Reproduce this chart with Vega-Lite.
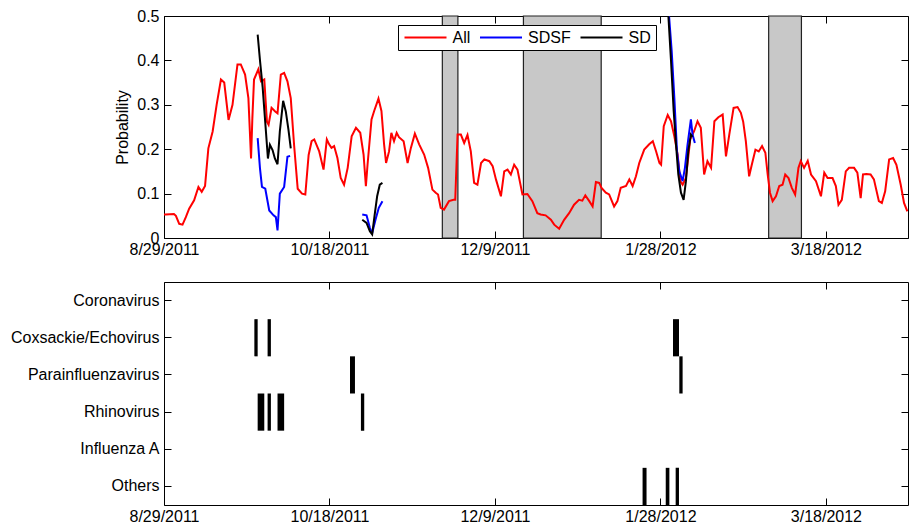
{
  "$schema": "https://vega.github.io/schema/vega-lite/v6.json",
  "background": "white",
  "padding": {"left": 10, "top": 7, "right": 2, "bottom": 4},
  "spacing": 23,
  "config": {
    "view": {"stroke": "#000", "strokeWidth": 1},
    "axis": {"domain": false, "grid": false, "tickColor": "#000", "tickWidth": 1, "tickSize": -7, "labelFont": "Liberation Sans", "labelFontSize": 16, "labelColor": "#000", "titleFont": "Liberation Sans", "titleFontSize": 16, "titleFontWeight": "normal", "titleColor": "#000", "labelOverlap": false, "labelFlush": false},
    "legend": {"labelFont": "Liberation Sans", "labelFontSize": 16, "labelColor": "#000"}
  },
  "resolve": {"scale": {"color": "independent"}, "legend": {"color": "independent"}},
  "datasets": {
    "zones": [{"start": 84.1, "end": 88.8}, {"start": 108.6, "end": 132.1}, {"start": 182.7, "end": 192.6}],
    "events": [
      {"virus": "Coxsackie/Echovirus", "start": 27.3, "end": 28.3},
      {"virus": "Coxsackie/Echovirus", "start": 31.3, "end": 32.3},
      {"virus": "Coxsackie/Echovirus", "start": 153.8, "end": 155.6},
      {"virus": "Parainfluenzavirus", "start": 56.2, "end": 57.7},
      {"virus": "Parainfluenzavirus", "start": 155.7, "end": 156.7},
      {"virus": "Rhinovirus", "start": 28.3, "end": 30.3},
      {"virus": "Rhinovirus", "start": 31.3, "end": 32.3},
      {"virus": "Rhinovirus", "start": 34.3, "end": 36.3},
      {"virus": "Rhinovirus", "start": 59.5, "end": 60.5},
      {"virus": "Others", "start": 144.6, "end": 145.8},
      {"virus": "Others", "start": 151.6, "end": 152.7},
      {"virus": "Others", "start": 154.6, "end": 155.6}
    ],
    "lines": [
      {"series":"All","seg":"A","day":0,"p":0.053},{"series":"All","seg":"A","day":0.5,"p":0.053},{"series":"All","seg":"A","day":3.0,"p":0.054},{"series":"All","seg":"A","day":3.6,"p":0.05},{"series":"All","seg":"A","day":4.6,"p":0.032},{"series":"All","seg":"A","day":5.6,"p":0.03},{"series":"All","seg":"A","day":6.6,"p":0.047},{"series":"All","seg":"A","day":7.6,"p":0.066},{"series":"All","seg":"A","day":9.1,"p":0.085},{"series":"All","seg":"A","day":10.4,"p":0.115},{"series":"All","seg":"A","day":11.4,"p":0.104},{"series":"All","seg":"A","day":12.4,"p":0.117},{"series":"All","seg":"A","day":13.4,"p":0.202},{"series":"All","seg":"A","day":14.7,"p":0.24},{"series":"All","seg":"A","day":15.9,"p":0.3},{"series":"All","seg":"A","day":17.2,"p":0.357},{"series":"All","seg":"A","day":18.2,"p":0.35},{"series":"All","seg":"A","day":19.5,"p":0.266},{"series":"All","seg":"A","day":20.7,"p":0.3},{"series":"All","seg":"A","day":22.2,"p":0.391},{"series":"All","seg":"A","day":23.2,"p":0.391},{"series":"All","seg":"A","day":24.5,"p":0.368},{"series":"All","seg":"A","day":25.5,"p":0.315},{"series":"All","seg":"A","day":26.3,"p":0.179},{"series":"All","seg":"A","day":26.7,"p":0.27},{"series":"All","seg":"A","day":27.2,"p":0.357},{"series":"All","seg":"A","day":28.5,"p":0.38},{"series":"All","seg":"A","day":29.3,"p":0.353},{"series":"All","seg":"A","day":30.3,"p":0.357},{"series":"All","seg":"A","day":31.1,"p":0.262},{"series":"All","seg":"A","day":31.6,"p":0.255},{"series":"All","seg":"A","day":32.5,"p":0.293},{"series":"All","seg":"A","day":33.6,"p":0.285},{"series":"All","seg":"A","day":34.3,"p":0.281},{"series":"All","seg":"A","day":35.3,"p":0.368},{"series":"All","seg":"A","day":36.3,"p":0.372},{"series":"All","seg":"A","day":37.3,"p":0.353},{"series":"All","seg":"A","day":38.3,"p":0.315},{"series":"All","seg":"A","day":39.3,"p":0.21},{"series":"All","seg":"A","day":40.4,"p":0.111},{"series":"All","seg":"A","day":41.7,"p":0.1},{"series":"All","seg":"A","day":42.7,"p":0.098},{"series":"All","seg":"A","day":43.7,"p":0.187},{"series":"All","seg":"A","day":44.6,"p":0.218},{"series":"All","seg":"A","day":45.4,"p":0.222},{"series":"All","seg":"A","day":46.9,"p":0.195},{"series":"All","seg":"A","day":48.2,"p":0.154},{"series":"All","seg":"A","day":49.2,"p":0.222},{"series":"All","seg":"A","day":49.9,"p":0.211},{"series":"All","seg":"A","day":50.6,"p":0.203},{"series":"All","seg":"A","day":51.4,"p":0.207},{"series":"All","seg":"A","day":52.4,"p":0.18},{"series":"All","seg":"A","day":53.4,"p":0.135},{"series":"All","seg":"A","day":54.4,"p":0.12},{"series":"All","seg":"A","day":55.5,"p":0.158},{"series":"All","seg":"A","day":56.7,"p":0.229},{"series":"All","seg":"A","day":58.0,"p":0.248},{"series":"All","seg":"A","day":59.3,"p":0.237},{"series":"All","seg":"A","day":60.3,"p":0.188},{"series":"All","seg":"A","day":61.0,"p":0.117},{"series":"All","seg":"A","day":61.5,"p":0.165},{"series":"All","seg":"A","day":62.7,"p":0.267},{"series":"All","seg":"A","day":63.5,"p":0.286},{"series":"All","seg":"A","day":64.8,"p":0.314},{"series":"All","seg":"A","day":65.7,"p":0.286},{"series":"All","seg":"A","day":66.5,"p":0.211},{"series":"All","seg":"A","day":67.1,"p":0.169},{"series":"All","seg":"A","day":68.0,"p":0.195},{"series":"All","seg":"A","day":68.7,"p":0.237},{"series":"All","seg":"A","day":69.5,"p":0.218},{"series":"All","seg":"A","day":70.3,"p":0.237},{"series":"All","seg":"A","day":71.0,"p":0.227},{"series":"All","seg":"A","day":72.4,"p":0.218},{"series":"All","seg":"A","day":73.6,"p":0.169},{"series":"All","seg":"A","day":74.6,"p":0.203},{"series":"All","seg":"A","day":75.8,"p":0.235},{"series":"All","seg":"A","day":77.1,"p":0.211},{"series":"All","seg":"A","day":78.6,"p":0.188},{"series":"All","seg":"A","day":79.8,"p":0.158},{"series":"All","seg":"A","day":81.1,"p":0.109},{"series":"All","seg":"A","day":82.1,"p":0.102},{"series":"All","seg":"A","day":82.8,"p":0.098},{"series":"All","seg":"A","day":83.6,"p":0.068},{"series":"All","seg":"A","day":84.6,"p":0.064},{"series":"All","seg":"A","day":86.1,"p":0.083},{"series":"All","seg":"A","day":87.5,"p":0.086},{"series":"All","seg":"A","day":88.0,"p":0.086},{"series":"All","seg":"A","day":88.7,"p":0.233},{"series":"All","seg":"A","day":89.7,"p":0.233},{"series":"All","seg":"A","day":90.7,"p":0.214},{"series":"All","seg":"A","day":91.7,"p":0.232},{"series":"All","seg":"A","day":92.7,"p":0.195},{"series":"All","seg":"A","day":93.7,"p":0.124},{"series":"All","seg":"A","day":94.7,"p":0.12},{"series":"All","seg":"A","day":95.8,"p":0.169},{"series":"All","seg":"A","day":96.8,"p":0.177},{"series":"All","seg":"A","day":98.3,"p":0.173},{"series":"All","seg":"A","day":99.3,"p":0.162},{"series":"All","seg":"A","day":100.3,"p":0.132},{"series":"All","seg":"A","day":101.8,"p":0.094},{"series":"All","seg":"A","day":102.8,"p":0.15},{"series":"All","seg":"A","day":103.8,"p":0.154},{"series":"All","seg":"A","day":104.8,"p":0.143},{"series":"All","seg":"A","day":105.8,"p":0.165},{"series":"All","seg":"A","day":106.8,"p":0.154},{"series":"All","seg":"A","day":108.3,"p":0.098},{"series":"All","seg":"A","day":109.8,"p":0.099},{"series":"All","seg":"A","day":111.3,"p":0.083},{"series":"All","seg":"A","day":112.8,"p":0.056},{"series":"All","seg":"A","day":113.8,"p":0.053},{"series":"All","seg":"A","day":115.3,"p":0.051},{"series":"All","seg":"A","day":116.9,"p":0.041},{"series":"All","seg":"A","day":117.9,"p":0.03},{"series":"All","seg":"A","day":119.4,"p":0.021},{"series":"All","seg":"A","day":120.9,"p":0.041},{"series":"All","seg":"A","day":122.4,"p":0.056},{"series":"All","seg":"A","day":123.9,"p":0.075},{"series":"All","seg":"A","day":125.4,"p":0.086},{"series":"All","seg":"A","day":126.4,"p":0.084},{"series":"All","seg":"A","day":127.3,"p":0.096},{"series":"All","seg":"A","day":128.5,"p":0.083},{"series":"All","seg":"A","day":129.5,"p":0.071},{"series":"All","seg":"A","day":130.5,"p":0.126},{"series":"All","seg":"A","day":131.5,"p":0.124},{"series":"All","seg":"A","day":132.2,"p":0.113},{"series":"All","seg":"A","day":133.5,"p":0.102},{"series":"All","seg":"A","day":134.5,"p":0.098},{"series":"All","seg":"A","day":136.0,"p":0.071},{"series":"All","seg":"A","day":137.0,"p":0.083},{"series":"All","seg":"A","day":138.0,"p":0.113},{"series":"All","seg":"A","day":139.6,"p":0.117},{"series":"All","seg":"A","day":140.6,"p":0.132},{"series":"All","seg":"A","day":141.6,"p":0.117},{"series":"All","seg":"A","day":142.6,"p":0.139},{"series":"All","seg":"A","day":143.6,"p":0.169},{"series":"All","seg":"A","day":145.1,"p":0.199},{"series":"All","seg":"A","day":146.6,"p":0.211},{"series":"All","seg":"A","day":147.7,"p":0.218},{"series":"All","seg":"A","day":148.7,"p":0.195},{"series":"All","seg":"A","day":149.7,"p":0.169},{"series":"All","seg":"A","day":150.2,"p":0.165},{"series":"All","seg":"A","day":151.0,"p":0.252},{"series":"All","seg":"A","day":152.2,"p":0.277},{"series":"All","seg":"A","day":153.2,"p":0.263},{"series":"All","seg":"A","day":154.2,"p":0.229},{"series":"All","seg":"A","day":155.2,"p":0.188},{"series":"All","seg":"A","day":156.0,"p":0.128},{"series":"All","seg":"A","day":156.7,"p":0.12},{"series":"All","seg":"A","day":157.7,"p":0.135},{"series":"All","seg":"A","day":159.0,"p":0.222},{"series":"All","seg":"A","day":160.2,"p":0.241},{"series":"All","seg":"A","day":161.2,"p":0.263},{"series":"All","seg":"A","day":162.2,"p":0.248},{"series":"All","seg":"A","day":163.2,"p":0.143},{"series":"All","seg":"A","day":164.2,"p":0.173},{"series":"All","seg":"A","day":165.3,"p":0.158},{"series":"All","seg":"A","day":166.3,"p":0.263},{"series":"All","seg":"A","day":167.5,"p":0.272},{"series":"All","seg":"A","day":168.8,"p":0.278},{"series":"All","seg":"A","day":169.8,"p":0.184},{"series":"All","seg":"A","day":170.8,"p":0.233},{"series":"All","seg":"A","day":172.1,"p":0.293},{"series":"All","seg":"A","day":173.3,"p":0.295},{"series":"All","seg":"A","day":174.3,"p":0.282},{"series":"All","seg":"A","day":175.0,"p":0.262},{"series":"All","seg":"A","day":175.8,"p":0.218},{"series":"All","seg":"A","day":176.8,"p":0.139},{"series":"All","seg":"A","day":177.6,"p":0.165},{"series":"All","seg":"A","day":178.7,"p":0.199},{"series":"All","seg":"A","day":179.7,"p":0.195},{"series":"All","seg":"A","day":180.7,"p":0.207},{"series":"All","seg":"A","day":181.7,"p":0.192},{"series":"All","seg":"A","day":182.4,"p":0.143},{"series":"All","seg":"A","day":183.1,"p":0.102},{"series":"All","seg":"A","day":183.9,"p":0.083},{"series":"All","seg":"A","day":184.9,"p":0.094},{"series":"All","seg":"A","day":185.9,"p":0.117},{"series":"All","seg":"A","day":186.9,"p":0.12},{"series":"All","seg":"A","day":187.7,"p":0.143},{"series":"All","seg":"A","day":188.7,"p":0.135},{"series":"All","seg":"A","day":189.7,"p":0.113},{"series":"All","seg":"A","day":190.7,"p":0.098},{"series":"All","seg":"A","day":191.7,"p":0.158},{"series":"All","seg":"A","day":192.4,"p":0.173},{"series":"All","seg":"A","day":193.4,"p":0.158},{"series":"All","seg":"A","day":194.5,"p":0.174},{"series":"All","seg":"A","day":195.5,"p":0.143},{"series":"All","seg":"A","day":197.0,"p":0.128},{"series":"All","seg":"A","day":198.5,"p":0.094},{"series":"All","seg":"A","day":199.5,"p":0.147},{"series":"All","seg":"A","day":200.5,"p":0.135},{"series":"All","seg":"A","day":202.0,"p":0.135},{"series":"All","seg":"A","day":203.0,"p":0.117},{"series":"All","seg":"A","day":203.8,"p":0.075},{"series":"All","seg":"A","day":204.8,"p":0.086},{"series":"All","seg":"A","day":206.0,"p":0.15},{"series":"All","seg":"A","day":207.0,"p":0.158},{"series":"All","seg":"A","day":208.5,"p":0.158},{"series":"All","seg":"A","day":209.5,"p":0.147},{"series":"All","seg":"A","day":210.5,"p":0.09},{"series":"All","seg":"A","day":211.2,"p":0.143},{"series":"All","seg":"A","day":212.2,"p":0.144},{"series":"All","seg":"A","day":213.5,"p":0.143},{"series":"All","seg":"A","day":214.5,"p":0.132},{"series":"All","seg":"A","day":216.0,"p":0.083},{"series":"All","seg":"A","day":216.9,"p":0.079},{"series":"All","seg":"A","day":217.9,"p":0.105},{"series":"All","seg":"A","day":219.1,"p":0.177},{"series":"All","seg":"A","day":220.3,"p":0.18},{"series":"All","seg":"A","day":221.3,"p":0.165},{"series":"All","seg":"A","day":222.6,"p":0.12},{"series":"All","seg":"A","day":223.6,"p":0.079},{"series":"All","seg":"A","day":224.6,"p":0.06},
      {"series":"SDSF","seg":"F1","day":28.3,"p":0.225},{"series":"SDSF","seg":"F1","day":29.0,"p":0.157},{"series":"SDSF","seg":"F1","day":29.6,"p":0.115},{"series":"SDSF","seg":"F1","day":30.6,"p":0.111},{"series":"SDSF","seg":"F1","day":31.8,"p":0.062},{"series":"SDSF","seg":"F1","day":33.1,"p":0.051},{"series":"SDSF","seg":"F1","day":33.8,"p":0.047},{"series":"SDSF","seg":"F1","day":34.3,"p":0.017},{"series":"SDSF","seg":"F1","day":35.0,"p":0.1},{"series":"SDSF","seg":"F1","day":36.3,"p":0.115},{"series":"SDSF","seg":"F1","day":37.3,"p":0.183},{"series":"SDSF","seg":"F1","day":38.1,"p":0.185},
      {"series":"SDSF","seg":"F2","day":59.9,"p":0.053},{"series":"SDSF","seg":"F2","day":61.2,"p":0.051},{"series":"SDSF","seg":"F2","day":62.2,"p":0.023},{"series":"SDSF","seg":"F2","day":62.9,"p":0.011},{"series":"SDSF","seg":"F2","day":63.9,"p":0.041},{"series":"SDSF","seg":"F2","day":64.9,"p":0.068},{"series":"SDSF","seg":"F2","day":66.0,"p":0.083},
      {"series":"SDSF","seg":"F3","day":151.9,"p":0.58},{"series":"SDSF","seg":"F3","day":152.6,"p":0.5},{"series":"SDSF","seg":"F3","day":153.4,"p":0.421},{"series":"SDSF","seg":"F3","day":154.2,"p":0.316},{"series":"SDSF","seg":"F3","day":155.0,"p":0.195},{"series":"SDSF","seg":"F3","day":155.7,"p":0.15},{"series":"SDSF","seg":"F3","day":156.7,"p":0.128},{"series":"SDSF","seg":"F3","day":157.4,"p":0.158},{"series":"SDSF","seg":"F3","day":158.2,"p":0.211},{"series":"SDSF","seg":"F3","day":159.2,"p":0.267},{"series":"SDSF","seg":"F3","day":159.7,"p":0.233},{"series":"SDSF","seg":"F3","day":160.4,"p":0.214},
      {"series":"SD","seg":"D1","day":28.3,"p":0.458},{"series":"SD","seg":"D1","day":29.0,"p":0.4},{"series":"SD","seg":"D1","day":29.8,"p":0.34},{"series":"SD","seg":"D1","day":30.6,"p":0.26},{"series":"SD","seg":"D1","day":31.4,"p":0.179},{"series":"SD","seg":"D1","day":32.0,"p":0.21},{"series":"SD","seg":"D1","day":32.8,"p":0.198},{"series":"SD","seg":"D1","day":33.5,"p":0.179},{"series":"SD","seg":"D1","day":34.3,"p":0.166},{"series":"SD","seg":"D1","day":35.0,"p":0.24},{"series":"SD","seg":"D1","day":36.0,"p":0.309},{"series":"SD","seg":"D1","day":36.8,"p":0.285},{"series":"SD","seg":"D1","day":37.6,"p":0.244},{"series":"SD","seg":"D1","day":38.3,"p":0.202},
      {"series":"SD","seg":"D2","day":59.9,"p":0.041},{"series":"SD","seg":"D2","day":61.2,"p":0.034},{"series":"SD","seg":"D2","day":62.2,"p":0.015},{"series":"SD","seg":"D2","day":62.9,"p":0.008},{"series":"SD","seg":"D2","day":63.6,"p":0.049},{"series":"SD","seg":"D2","day":64.4,"p":0.094},{"series":"SD","seg":"D2","day":65.2,"p":0.12},{"series":"SD","seg":"D2","day":66.0,"p":0.124},
      {"series":"SD","seg":"D3","day":151.8,"p":0.58},{"series":"SD","seg":"D3","day":152.4,"p":0.5},{"series":"SD","seg":"D3","day":153.2,"p":0.398},{"series":"SD","seg":"D3","day":154.0,"p":0.286},{"series":"SD","seg":"D3","day":154.7,"p":0.211},{"series":"SD","seg":"D3","day":155.4,"p":0.143},{"series":"SD","seg":"D3","day":156.2,"p":0.102},{"series":"SD","seg":"D3","day":157.0,"p":0.086},{"series":"SD","seg":"D3","day":157.7,"p":0.128},{"series":"SD","seg":"D3","day":158.4,"p":0.195},{"series":"SD","seg":"D3","day":159.2,"p":0.233},{"series":"SD","seg":"D3","day":159.7,"p":0.228}
    ]
  },
  "vconcat": [
    {
      "width": 744,
      "height": 222,
      "layer": [
        {
          "data": {"name": "zones"},
          "mark": {"type": "rect", "fill": "#c8c8c8", "stroke": "#222", "strokeWidth": 1.2},
          "encoding": {
            "x": {"field": "start", "type": "quantitative", "scale": {"domain": [0, 224.8], "nice": false, "zero": false}, "axis": {"orient": "top", "values": [0, 50, 100, 150, 200], "labels": false, "title": null}},
            "x2": {"field": "end"},
            "y": {"datum": 0, "type": "quantitative", "scale": {"domain": [0, 0.5], "nice": false}, "axis": {"orient": "right", "values": [0, 0.1, 0.2, 0.3, 0.4, 0.5], "labels": false, "title": null}},
            "y2": {"datum": 0.5}
          }
        },
        {
          "data": {"name": "lines"},
          "mark": {"type": "line", "strokeWidth": 2, "clip": true},
          "encoding": {
            "x": {"field": "day", "type": "quantitative", "axis": {"orient": "bottom", "values": [0, 50, 100, 150, 200], "title": null, "labelPadding": 10, "labelExpr": "datum.value == 0 ? '8/29/2011' : datum.value == 50 ? '10/18/2011' : datum.value == 100 ? '12/9/2011' : datum.value == 150 ? '1/28/2012' : '3/18/2012'"}},
            "y": {"field": "p", "type": "quantitative", "axis": {"orient": "left", "values": [0, 0.1, 0.2, 0.3, 0.4, 0.5], "title": "Probability", "titlePadding": 6, "labelPadding": 12, "labelExpr": "datum.value == 0 ? '0' : format(datum.value, '.1f')"}},
            "color": {"field": "series", "type": "nominal", "scale": {"domain": ["All", "SDSF", "SD"], "range": ["#ff0000", "#0000ff", "#000000"]},
              "legend": {"title": null, "orient": "none", "legendX": 234, "legendY": 9, "direction": "horizontal", "symbolType": "M-4.2,0H4.2", "symbolSize": 100, "symbolStrokeWidth": 2, "symbolOffset": 15, "labelOffset": 19, "strokeColor": "#000", "fillColor": "#fff", "padding": 4.5, "columnPadding": 5.5}},
            "detail": {"field": "seg"}
          }
        }
      ],
      "resolve": {"axis": {"x": "independent", "y": "independent"}}
    },
    {
      "width": 744,
      "height": 223,
      "data": {"name": "events"},
      "layer": [
        {
          "mark": {"type": "rect", "fill": "#000"},
          "encoding": {
            "x": {"field": "start", "type": "quantitative", "scale": {"domain": [0, 224.8], "nice": false, "zero": false}, "axis": {"orient": "bottom", "values": [0, 50, 100, 150, 200], "title": null, "labelPadding": 10, "labelExpr": "datum.value == 0 ? '8/29/2011' : datum.value == 50 ? '10/18/2011' : datum.value == 100 ? '12/9/2011' : datum.value == 150 ? '1/28/2012' : '3/18/2012'"}},
            "x2": {"field": "end"},
            "y": {"field": "virus", "type": "nominal", "scale": {"domain": ["Coronavirus", "Coxsackie/Echovirus", "Parainfluenzavirus", "Rhinovirus", "Influenza A", "Others"], "paddingInner": 0, "paddingOuter": 0}, "axis": {"orient": "left", "title": null, "labelPadding": 12}}
          }
        },
        {
          "mark": {"type": "rect", "opacity": 0},
          "encoding": {
            "x": {"field": "start", "type": "quantitative", "axis": {"orient": "top", "values": [0, 50, 100, 150, 200], "labels": false, "title": null}},
            "x2": {"field": "end"},
            "y": {"field": "virus", "type": "nominal", "axis": {"orient": "right", "labels": false, "title": null}}
          }
        }
      ],
      "resolve": {"axis": {"x": "independent", "y": "independent"}}
    }
  ]
}
